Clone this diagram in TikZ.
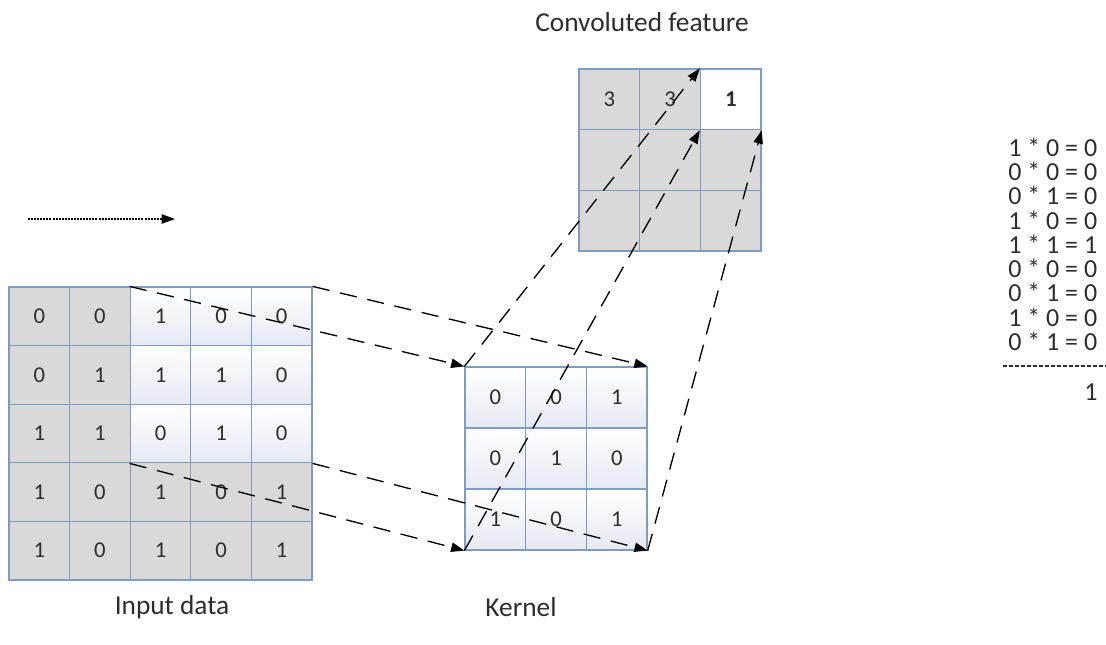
\documentclass[tikz,border=0pt]{standalone}
\usepackage{fontspec}
\setmainfont{Carlito}
\usetikzlibrary{arrows.meta}

\definecolor{gridline}{RGB}{127,156,192}
\definecolor{cellgray}{RGB}{217,217,217}
\definecolor{cellpale}{RGB}{229,233,242}
\definecolor{ink}{RGB}{45,45,45}

\tikzset{
  cell/.style={draw=gridline, line width=0.9pt, inner sep=0pt, text=ink,
    font=\fontsize{17}{20}\selectfont},
  incell/.style={cell, minimum width=45.45pt, minimum height=43.95pt},
  kcell/.style={cell, minimum width=45.5pt, minimum height=45.75pt},
  outcell/.style={cell, minimum width=45.5pt, minimum height=45.5pt},
  caption/.style={text=ink, font=\fontsize{20.5}{24}\selectfont},
  eqline/.style={text=ink, font=\fontsize{19.5}{22}\selectfont, anchor=west,
    inner sep=0pt},
  link/.style={-{Triangle[length=10pt,width=7pt]}, line width=1pt,
    dash pattern=on 13pt off 8pt}
}

\begin{document}
\begin{tikzpicture}[x=0.75pt,y=-0.75pt]
\useasboundingbox (0,0) rectangle (1106,645);

\foreach \r/\row in {1/{0,0,1,0,0},2/{0,1,1,1,0},3/{1,1,0,1,0},4/{1,0,1,0,1},5/{1,0,1,0,1}} {
  \foreach \v [count=\c] in \row {
    \pgfmathtruncatemacro\win{(\r<4)&&(\c>2)}
    \ifnum\win=1 \def\tc{white}\def\bc{cellpale}\else \def\tc{cellgray}\def\bc{cellgray}\fi
    \node[incell, top color=\tc, bottom color=\bc] (in-\r-\c)
      at ({9+60.6*(\c-0.5)},{287+58.6*(\r-0.5)}) {\v};
  }
}

\foreach \r/\row in {1/{0,0,1},2/{0,1,0},3/{1,0,1}} {
  \foreach \v [count=\c] in \row {
    \node[kcell, top color=white, bottom color=cellpale] (k-\r-\c)
      at ({465+60.7*(\c-0.5)},{367+61*(\r-0.5)}) {\v};
  }
}

\foreach \r/\row in {1/{3,3,\textbf{1}},2/{,,},3/{,,}} {
  \foreach \v [count=\c] in \row {
    \pgfmathtruncatemacro\hit{(\r==1)&&(\c==3)}
    \ifnum\hit=1 \def\fc{white}\else \def\fc{cellgray}\fi
    \node[outcell, fill=\fc] (out-\r-\c)
      at ({579+60.7*(\c-0.5)},{69+60.7*(\r-0.5)}) {\v};
  }
}

\node[caption] (title) at (642,22) {Convoluted feature};
\node[caption] (indata) at (172,607) {Input data};
\node[caption] (kname) at (521,607) {Kernel};

\coordinate (s0) at (28,219);
\coordinate (s1) at (175,219);
\draw[-{Triangle[length=10pt,width=7pt]}, line width=1pt,
  dash pattern=on 1.5pt off 0.8pt] (s0) -- (s1);

\draw[link] (in-1-3.north west) -- (k-1-1.north west);
\draw[link] (in-1-5.north east) -- (k-1-3.north east);
\draw[link] (in-3-3.south west) -- (k-3-1.south west);
\draw[link] (in-3-5.south east) -- (k-3-3.south east);

\draw[link] (k-1-1.north west) -- (out-1-3.north west);
\draw[link] (k-3-1.south west) -- (out-1-3.south west);
\draw[link] (k-3-3.south east) -- (out-1-3.south east);

\foreach \t [count=\i] in {1 * 0 = 0,0 * 0 = 0,0 * 1 = 0,1 * 0 = 0,1 * 1 = 1,0 * 0 = 0,0 * 1 = 0,1 * 0 = 0,0 * 1 = 0} {
  \node[eqline] (eq-\i) at (1008,{147+24.3*(\i-1)}) {\t};
}
\draw[ink, line width=0.8pt, dash pattern=on 3pt off 1.5pt] (1003,366) -- (1106,366);
\node[eqline, anchor=center] (sum) at (1091,392) {1};
\end{tikzpicture}
\end{document}
